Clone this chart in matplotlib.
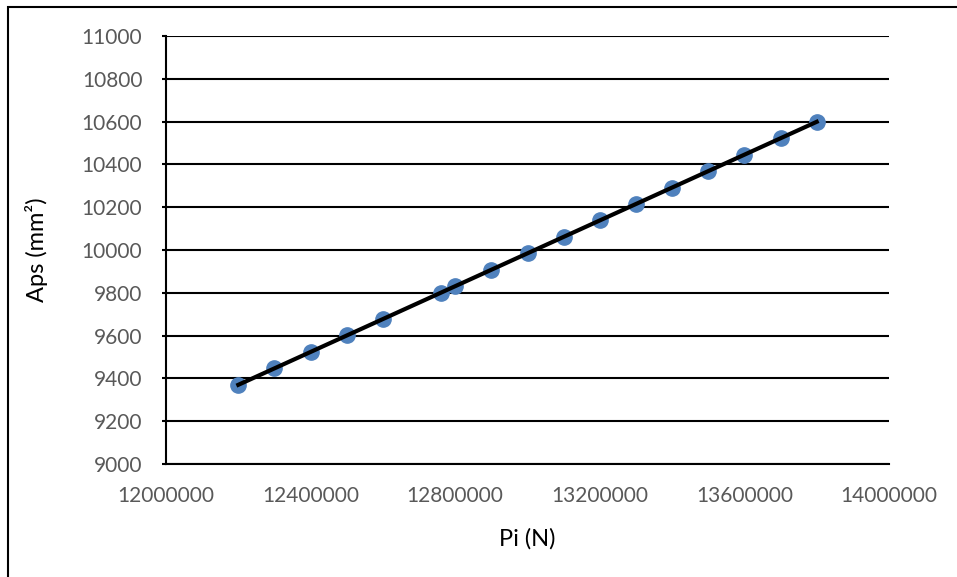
import matplotlib
matplotlib.use("Agg")
import matplotlib.pyplot as plt
from matplotlib.patches import Rectangle

pi_n = [12200000, 12300000, 12400000, 12500000, 12600000, 12760000, 12800000,
        12900000, 13000000, 13100000, 13200000, 13300000, 13400000, 13500000,
        13600000, 13700000, 13800000]
aps = [9370, 9447, 9524, 9601, 9677, 9800, 9831, 9908, 9985, 10061, 10138,
       10215, 10292, 10369, 10446, 10522, 10599]
x_ticks = [12000000, 12400000, 12800000, 13200000, 13600000, 14000000]
y_ticks = [9000, 9200, 9400, 9600, 9800, 10000, 10200, 10400, 10600, 10800, 11000]

plt.rcParams['font.family'] = ['Lato', 'DejaVu Sans']
W, H = 957, 577
fig = plt.figure(figsize=(W/100, H/100), dpi=100)
ax = fig.add_axes([166/W, 1-464/H, (889-166)/W, (464-36)/H])

# outer chart border
fig.patches.append(Rectangle((8/W, -0.1), 1.2, 1-7/H+0.1, transform=fig.transFigure,
                             fill=False, edgecolor='black', linewidth=1.5))

ax.set_xlim(12000000, 14000000)
ax.set_ylim(9000, 11000)
ax.set_xticks(x_ticks)
ax.set_yticks(y_ticks)
ax.set_xticklabels([str(v) for v in x_ticks])
ax.set_yticklabels([str(v) for v in y_ticks])
ax.grid(axis='y', color='black', linewidth=1.5)
ax.set_axisbelow(True)
for s in ['top', 'right']:
    ax.spines[s].set_visible(False)
for s in ['left', 'bottom']:
    ax.spines[s].set_color('black')
    ax.spines[s].set_linewidth(1.5)
ax.tick_params(axis='y', length=3, width=1.5, colors='black', labelcolor='#595959', labelsize=15, pad=14)
ax.tick_params(axis='x', length=0, labelcolor='#595959', labelsize=15, pad=16)

ax.plot(pi_n, aps, 'o', color='#4F81BD', markersize=11, zorder=3)
ax.plot([pi_n[0], pi_n[-1]], [aps[0], aps[-1]], color='black', linewidth=3, zorder=4)

ax.set_xlabel('Pi (N)', fontsize=17, labelpad=16)
ax.set_ylabel('Aps (mm²)', fontsize=17, labelpad=24)

fig.savefig('out.png', dpi=100)
